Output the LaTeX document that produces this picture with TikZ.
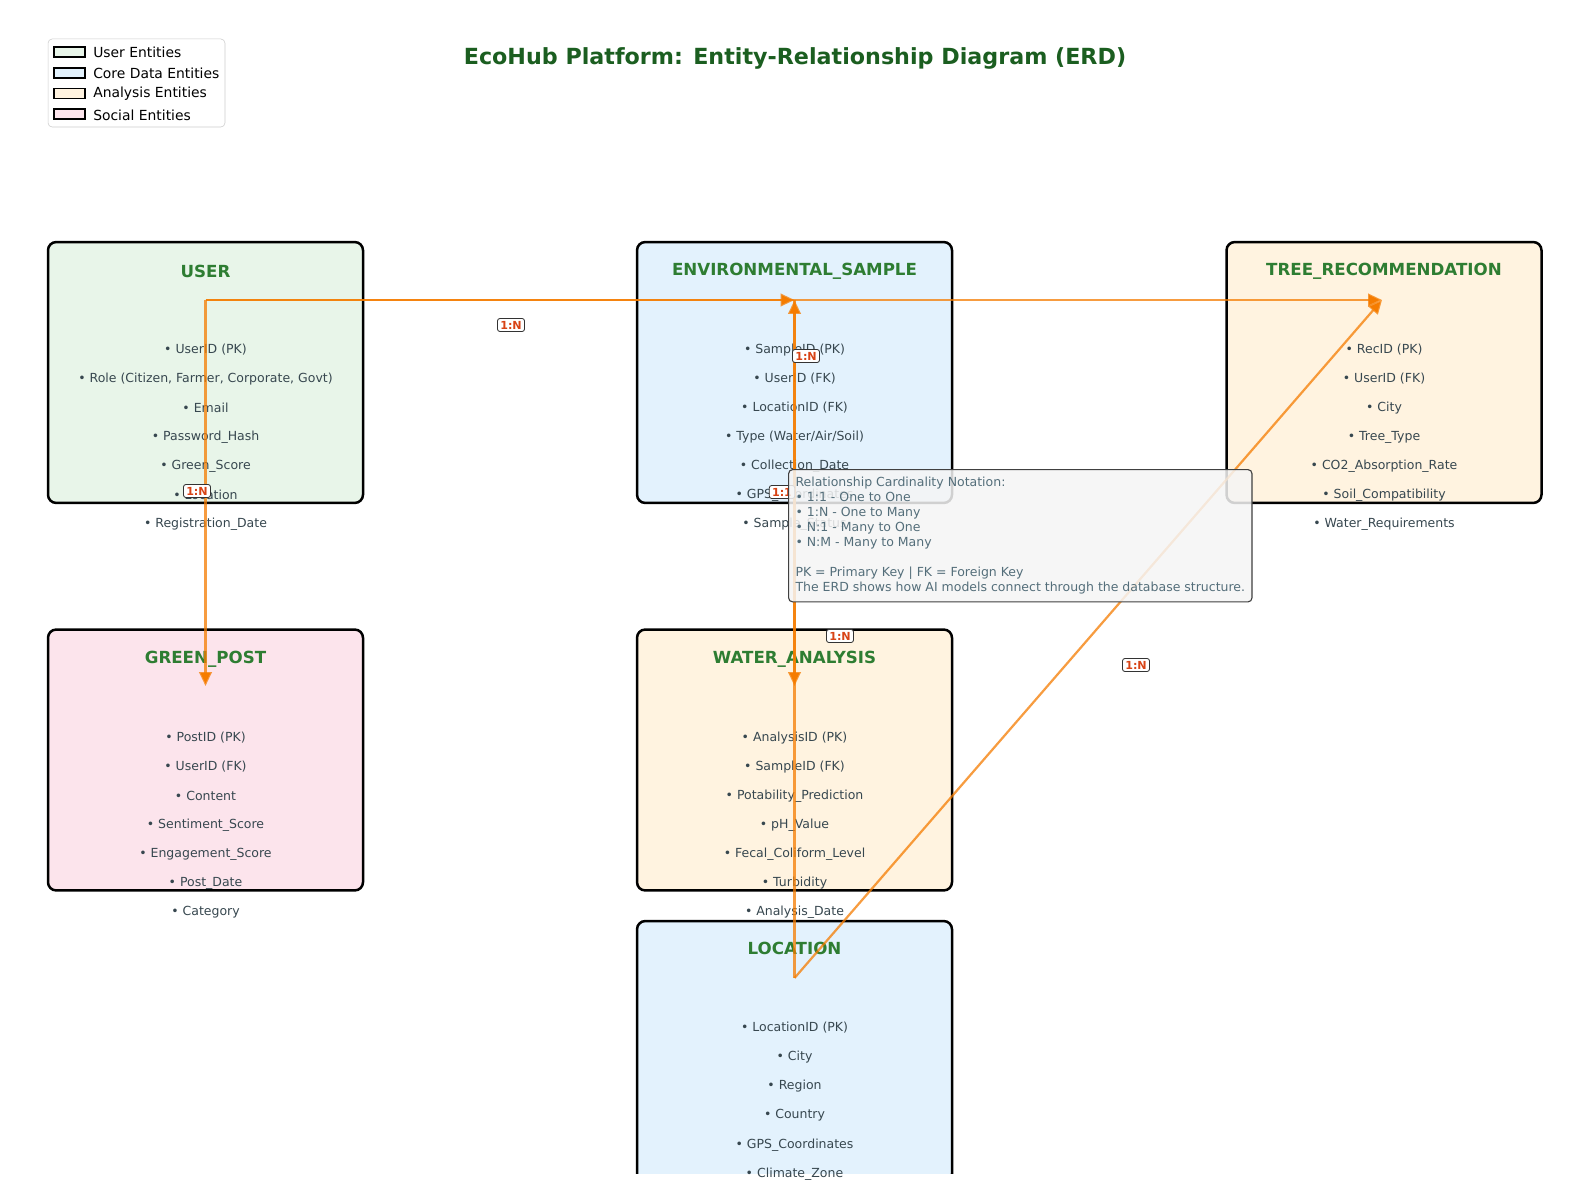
\documentclass[tikz,border=0pt]{standalone}
\usepackage{fontspec}
\setmainfont{DejaVu Sans}
\usetikzlibrary{arrows.meta}
\definecolor{ttl}{HTML}{1B5E20}
\definecolor{ent}{HTML}{2E7D32}
\definecolor{attr}{HTML}{37474F}
\definecolor{note}{HTML}{546E7A}
\definecolor{userf}{HTML}{E8F5E9}
\definecolor{coref}{HTML}{E3F2FD}
\definecolor{anaf}{HTML}{FFF3E0}
\definecolor{socf}{HTML}{FCE4EC}
\definecolor{rel}{HTML}{F57C00}
\definecolor{card}{HTML}{D84315}
\begin{document}
\begin{tikzpicture}[x=0.72pt,y=-0.72pt,
  entity/.style={draw=black, line width=1.8pt, rounded corners=6pt, minimum width=226.8pt, minimum height=187.9pt, inner sep=0pt},
  etitle/.style={text=ent, font=\fontsize{12}{14}\selectfont\bfseries, inner sep=0pt},
  attrtext/.style={text=attr, font=\fontsize{9}{11}\selectfont, inner sep=0pt},
  relline/.style={draw=rel, draw opacity=0.75, line width=1.6pt, -{Triangle[length=10pt,width=9pt]}},
  cardlbl/.style={fill=white, draw=black!80, line width=0.6pt, rounded corners=1.8pt, inner xsep=2pt, inner ysep=1.8pt, text=card, font=\fontsize{8}{9}\selectfont\bfseries},
  legpatch/.style={draw=black, line width=0.8pt, minimum width=22.3pt, minimum height=7.2pt, inner sep=0pt},
  legtext/.style={anchor=west, font=\fontsize{10}{12}\selectfont, inner sep=0pt}
]
\useasboundingbox (0,0) rectangle (1589,1189);
\fill[white] (0,0) rectangle (1589,1189);

% title
\node[text=ttl, font=\fontsize{16}{19}\selectfont\bfseries] (title) at (795,58) {EcoHub Platform: Entity-Relationship Diagram (ERD)};

% entities
\node[entity, fill=userf] (user) at (205.5,372.5) {};
\node[entity, fill=coref] (env) at (794.5,372.5) {};
\node[entity, fill=anaf] (tree) at (1384,372.5) {};
\node[entity, fill=socf] (post) at (205.5,760) {};
\node[entity, fill=anaf] (water) at (794.5,760) {};
\begin{scope}
\clip (0,0) rectangle (1589,1173);
\node[entity, fill=coref] (loc) at (794.5,1051.5) {};
\end{scope}

\node[etitle] (userT) at (205.5,271) {USER};
\node[etitle] (envT) at (794.5,271) {ENVIRONMENTAL\_SAMPLE};
\node[etitle] (treeT) at (1384,271) {TREE\_RECOMMENDATION};
\node[etitle] (postT) at (205.5,659) {GREEN\_POST};
\node[etitle] (waterT) at (794.5,659) {WATER\_ANALYSIS};
\node[etitle] (locT) at (794.5,948) {LOCATION};

\foreach \t [count=\i] in {UserID (PK),{Role (Citizen, Farmer, Corporate, Govt)},Email,Password\_Hash,Green\_Score,Location,Registration\_Date}
  \node[attrtext] (ua\i) at (205.5,{350+29*(\i-1)}) {• \t};
\foreach \t [count=\i] in {SampleID (PK),UserID (FK),LocationID (FK),Type (Water/Air/Soil),Collection\_Date,GPS\_Coordinates,Sample\_Status}
  \node[attrtext] (ea\i) at (794.5,{350+29*(\i-1)}) {• \t};
\foreach \t [count=\i] in {RecID (PK),UserID (FK),City,Tree\_Type,CO2\_Absorption\_Rate,Soil\_Compatibility,Water\_Requirements}
  \node[attrtext] (ta\i) at (1384,{350+29*(\i-1)}) {• \t};
\foreach \t [count=\i] in {PostID (PK),UserID (FK),Content,Sentiment\_Score,Engagement\_Score,Post\_Date,Category}
  \node[attrtext] (pa\i) at (205.5,{738+29*(\i-1)}) {• \t};
\foreach \t [count=\i] in {AnalysisID (PK),SampleID (FK),Potability\_Prediction,pH\_Value,Fecal\_Coliform\_Level,Turbidity,Analysis\_Date}
  \node[attrtext] (wa\i) at (794.5,{738+29*(\i-1)}) {• \t};
\foreach \t [count=\i] in {LocationID (PK),City,Region,Country,GPS\_Coordinates,Climate\_Zone}
  \node[attrtext] (la\i) at (794.5,{1028+29.2*(\i-1)}) {• \t};

% anchor points
\coordinate (uA) at (205.5,300);
\coordinate (eA) at (794.5,300);
\coordinate (tA) at (1382,300);
\coordinate (pA) at (205.5,686);
\coordinate (wA) at (794.5,686);
\coordinate (lA) at (794.5,978);

% relationships
\draw[relline] (uA) -- (eA);
\draw[relline] (uA) -- (tA);
\draw[relline] (uA) -- (pA);
\draw[relline] (eA) -- (wA);
\draw[relline] (lA) -- (eA);
\draw[relline] (lA) -- (tA);

\node[cardlbl] (c1) at (511,325) {1:N};
\node[cardlbl] (c2) at (806,356) {1:N};
\node[cardlbl] (c3) at (197,491) {1:N};
\node[cardlbl] (c4) at (782,492) {1:1};
\node[cardlbl] (c5) at (840,636) {1:N};
\node[cardlbl] (c6) at (1136,665) {1:N};

% notation box
\node[anchor=north west, fill=black!4, fill opacity=0.85, text opacity=1, draw=black!75, line width=0.8pt, rounded corners=3pt, inner xsep=5pt, inner ysep=5.5pt, align=left, text=note, font=\fontsize{9}{10.8}\selectfont] (notation) at (788,469) {Relationship Cardinality Notation:\\• 1:1 - One to One\\• 1:N - One to Many\\• N:1 - Many to One\\• N:M - Many to Many\\[10.8pt]PK = Primary Key | FK = Foreign Key\\The ERD shows how AI models connect through the database structure.};

% legend
\node[draw=black!20, fill=white, rounded corners=3pt, minimum width=127.4pt, minimum height=63.4pt, inner sep=0pt] (legend) at (136.5,83) {};
\node[legpatch, fill=userf] (lp1) at (69.5,52) {};
\node[legpatch, fill=coref] (lp2) at (69.5,73) {};
\node[legpatch, fill=anaf] (lp3) at (69.5,93.5) {};
\node[legpatch, fill=socf] (lp4) at (69.5,114) {};
\node[legtext] (lt1) at (93,52) {User Entities};
\node[legtext] (lt2) at (93,73) {Core Data Entities};
\node[legtext] (lt3) at (93,94) {Analysis Entities};
\node[legtext] (lt4) at (93,115) {Social Entities};
\end{tikzpicture}
\end{document}
